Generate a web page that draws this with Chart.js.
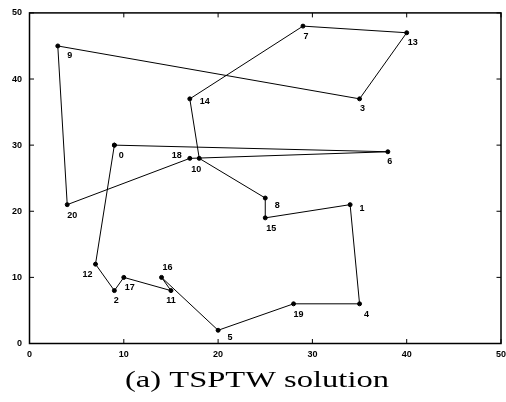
<!DOCTYPE html>
<html>
<head>
<meta charset="utf-8">
<script src="https://cdn.jsdelivr.net/npm/chart.js@4.4.0/dist/chart.umd.min.js"></script>
<style>
    html, body { margin: 0; padding: 0; background: #fff; }
    #contenedor { width: 506px; height: 402px; }
</style>
</head>
<body>
<div id="contenedor"><canvas id="myChart" width="506" height="402"></canvas></div>
<script>
// coordenadas de cada ciudad (el indice es el numero de la ciudad)
const ciudadX = [9, 34, 9, 35, 35, 20, 38, 29, 25, 3, 18, 15, 7, 40, 17, 25, 14, 10, 17, 28, 4];
const ciudadY = [30, 21, 8, 37, 6, 2, 29, 48, 22, 45, 28, 8, 12, 47, 37, 19, 10, 10, 28, 6, 21];

// orden de visita, vuelve a la ciudad 0
const recorrido = [0, 12, 2, 17, 11, 16, 5, 19, 4, 1, 15, 8, 10, 14, 7, 13, 3, 9, 20, 18, 6, 0];

const ticksX = [0, 10, 20, 30, 40, 50];
const ticksY = [0, 10, 20, 30, 40, 50];
const titulo = "(a) TSPTW solution";

// corrimiento en px de cada numero respecto a su punto
const corrimientoEtiqueta = {
    0: [7, 10], 1: [12, 4], 2: [2, 10], 3: [3, 10], 4: [7, 11],
    5: [12, 7], 6: [2, 10], 7: [3, 10], 8: [12, 7], 9: [12, 10],
    10: [-3, 11], 11: [0, 10], 12: [-8, 10], 13: [6, 10], 14: [15, 3],
    15: [6, 11], 16: [6, -10], 17: [6, 10], 18: [-13, -3], 19: [5, 11],
    20: [5, 11]
};

const fuenteSans = "'Liberation Sans', Arial, sans-serif";

// marco negro con marcas hacia adentro en los cuatro lados
const marcoPlugin = {
    id: 'marco',
    afterDatasetsDraw(chart) {
        const { ctx, chartArea: a, scales } = chart;
        const largo = 4.5;
        ctx.save();
        ctx.strokeStyle = '#000';
        ctx.lineWidth = 1.5;
        ctx.strokeRect(a.left, a.top, a.right - a.left, a.bottom - a.top);
        ctx.lineWidth = 1;
        ctx.beginPath();
        ticksX.forEach(v => {
            const px = scales.x.getPixelForValue(v);
            ctx.moveTo(px, a.bottom); ctx.lineTo(px, a.bottom - largo);
            ctx.moveTo(px, a.top); ctx.lineTo(px, a.top + largo);
        });
        ticksY.forEach(v => {
            const py = scales.y.getPixelForValue(v);
            ctx.moveTo(a.left, py); ctx.lineTo(a.left + largo, py);
            ctx.moveTo(a.right, py); ctx.lineTo(a.right - largo, py);
        });
        ctx.stroke();
        ctx.restore();
    }
};

// numero de cada ciudad al lado de su punto
const etiquetasPlugin = {
    id: 'etiquetas',
    afterDatasetsDraw(chart) {
        const { ctx, scales } = chart;
        ctx.save();
        ctx.fillStyle = '#000';
        ctx.font = 'bold 9px ' + fuenteSans;
        ctx.textAlign = 'center';
        ctx.textBaseline = 'middle';
        ciudadX.forEach((x, i) => {
            const d = corrimientoEtiqueta[i];
            const px = scales.x.getPixelForValue(x) + d[0];
            const py = scales.y.getPixelForValue(ciudadY[i]) + d[1];
            ctx.fillText(String(i), px, py);
        });
        ctx.restore();
    }
};

// leyenda de la figura debajo del grafico
const leyendaPlugin = {
    id: 'leyenda',
    afterDraw(chart) {
        const { ctx, chartArea: a } = chart;
        ctx.save();
        ctx.fillStyle = '#000';
        ctx.font = "24px 'Liberation Serif', 'Times New Roman', serif";
        ctx.textBaseline = 'alphabetic';
        const ancho = ctx.measureText(titulo).width;
        const escala = 264 / ancho;
        const centro = 257;
        ctx.translate(centro - 132, a.bottom + 43);
        ctx.scale(escala, 1);
        ctx.fillText(titulo, 0, 0);
        ctx.restore();
    }
};

const datosRecorrido = recorrido.map(c => ({ x: ciudadX[c], y: ciudadY[c] }));

const ctx = document.getElementById('myChart');

new Chart(ctx, {
    type: 'scatter',
    data: {
        datasets: [{
            data: datosRecorrido,
            showLine: true,
            borderColor: '#000',
            borderWidth: 1,
            backgroundColor: '#000',
            pointRadius: 2,
            pointBorderWidth: 1,
            pointBorderColor: '#000',
            pointBackgroundColor: '#000',
            tension: 0
        }]
    },
    options: {
        responsive: false,
        animation: false,
        events: [],
        layout: { padding: { top: 9, right: 4, bottom: 42.5, left: 0 } },
        scales: {
            x: {
                type: 'linear',
                min: 0,
                max: 50,
                afterBuildTicks: s => { s.ticks = ticksX.map(v => ({ value: v })); },
                afterFit: s => { s.height = 16; s.paddingLeft = 0; s.paddingRight = 0; },
                grid: { display: false, drawTicks: false },
                border: { display: false },
                ticks: {
                    color: '#000',
                    padding: 6,
                    maxRotation: 0,
                    font: { family: fuenteSans, size: 9, weight: 'bold' }
                }
            },
            y: {
                type: 'linear',
                min: 0,
                max: 50,
                afterBuildTicks: s => { s.ticks = ticksY.map(v => ({ value: v })); },
                afterFit: s => { s.width = 29.5; },
                grid: { display: false, drawTicks: false },
                border: { display: false },
                ticks: {
                    color: '#000',
                    padding: 7.5,
                    font: { family: fuenteSans, size: 9, weight: 'bold' }
                }
            }
        },
        plugins: {
            legend: { display: false },
            tooltip: { enabled: false },
            title: { display: false }
        }
    },
    plugins: [marcoPlugin, etiquetasPlugin, leyendaPlugin]
});
</script>
</body>
</html>
